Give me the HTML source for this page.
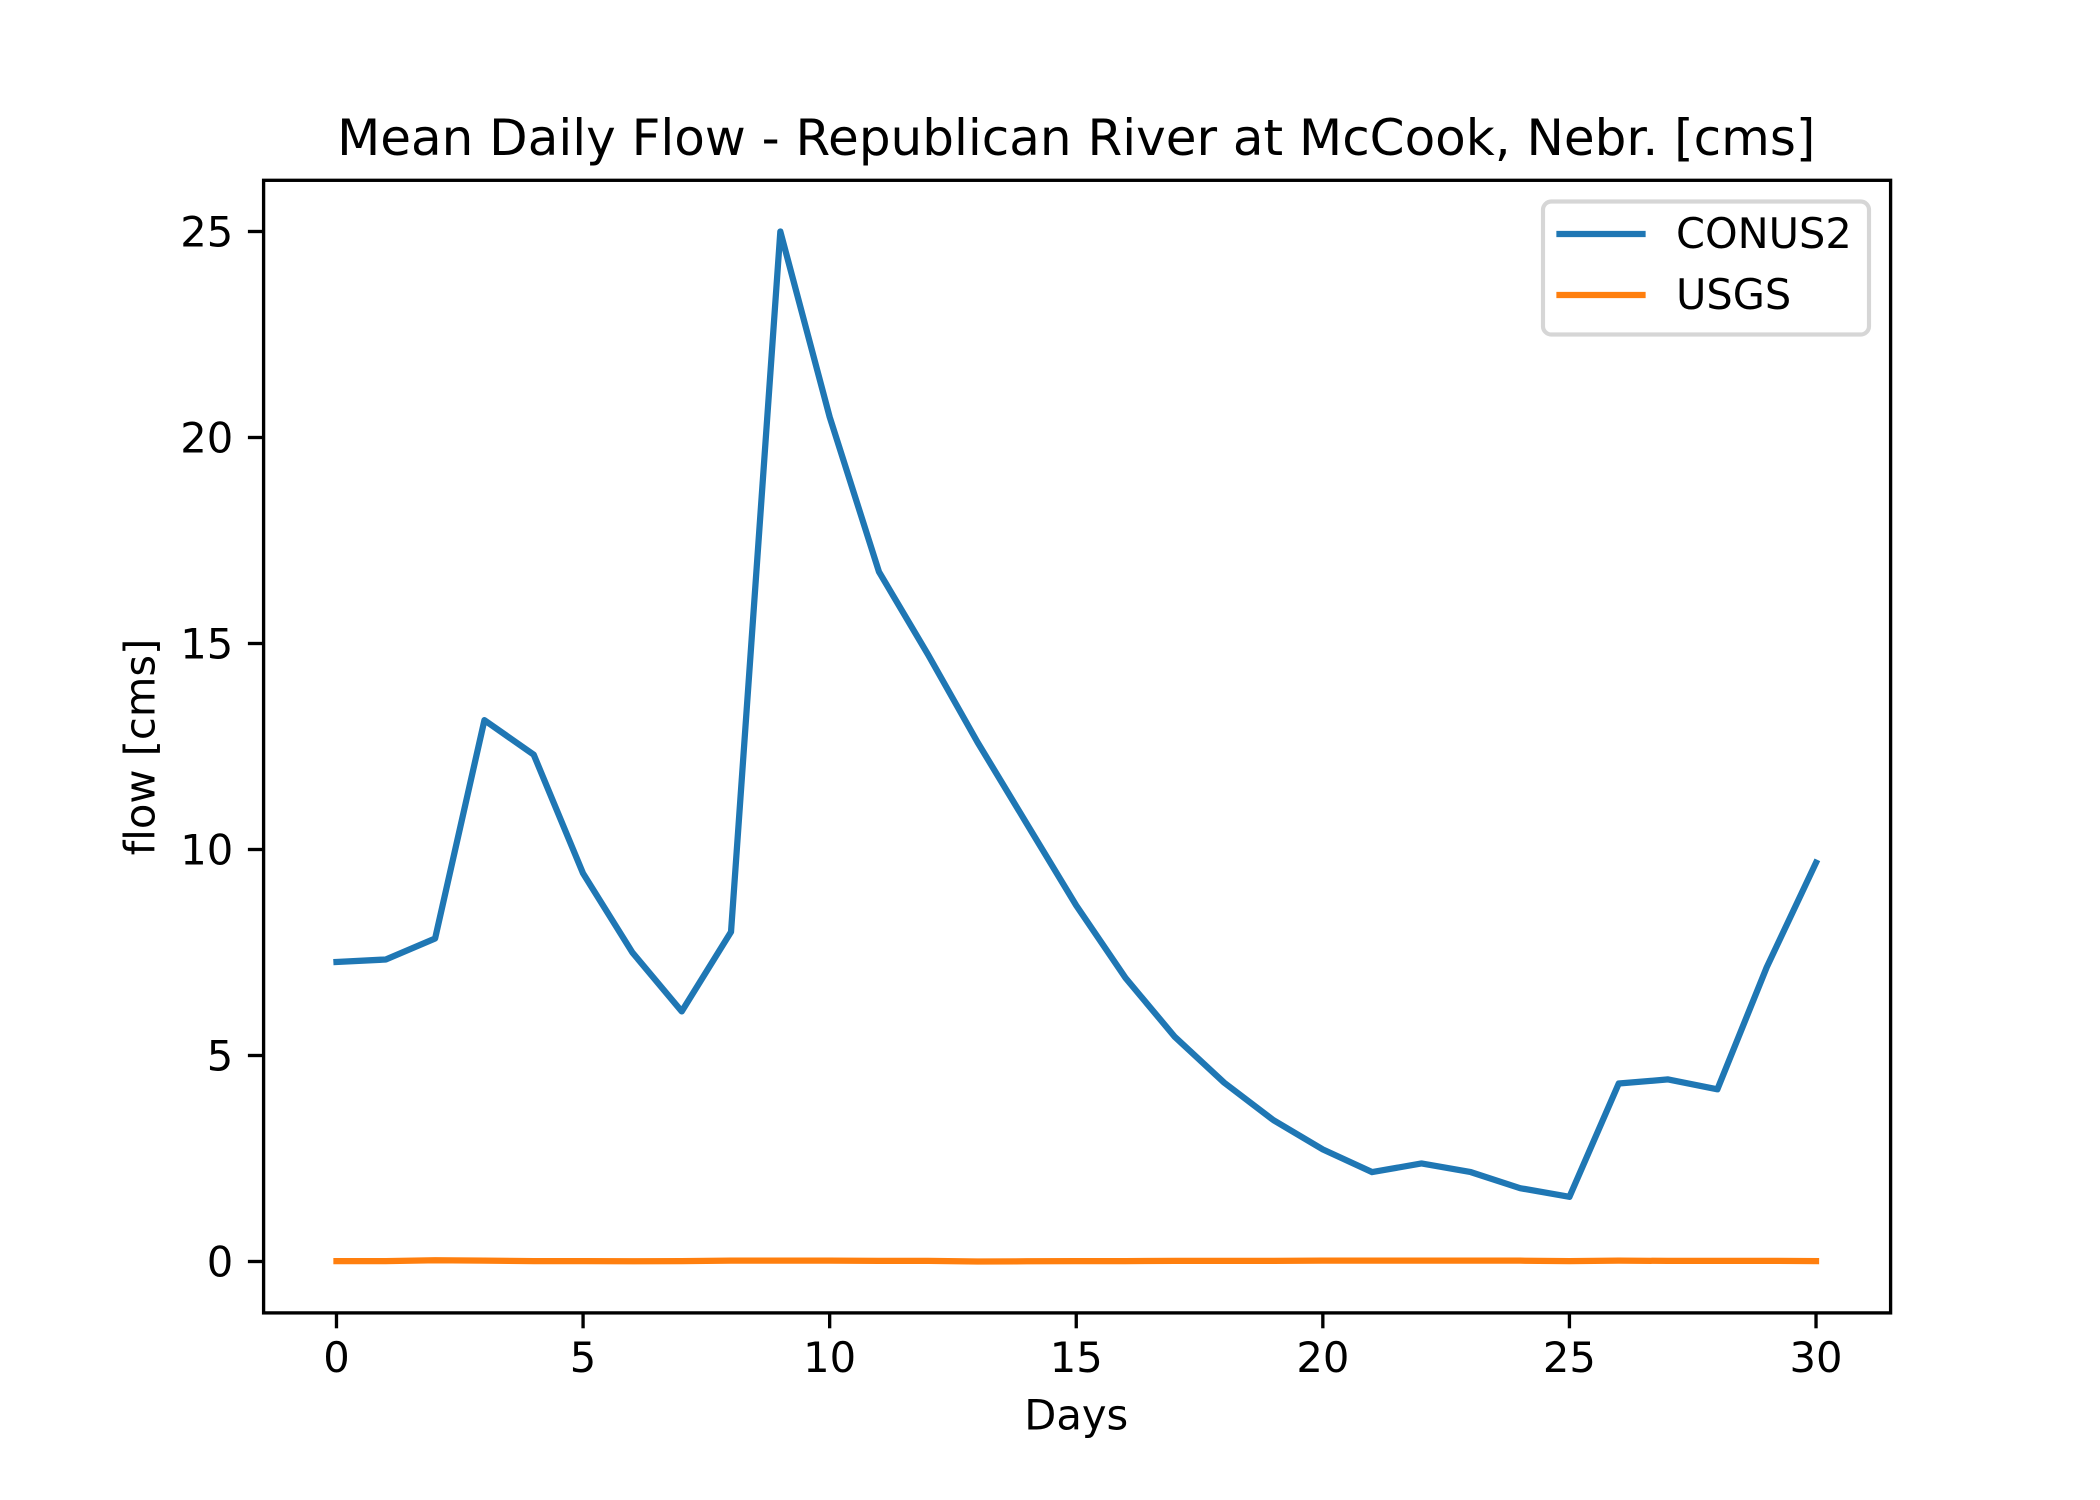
<!DOCTYPE html>
<html lang="en">
<head>
<meta charset="utf-8">
<title>Mean Daily Flow - Republican River at McCook, Nebr. [cms]</title>
<style>
  html, body { margin: 0; padding: 0; background: #fff; }
  svg { display: block; }
  text { font-family: "DejaVu Sans", "Liberation Sans", sans-serif; fill: #000; font-variant-ligatures: none; }
</style>
</head>
<body>
<svg id="chart" xmlns="http://www.w3.org/2000/svg" width="2100" height="1500" viewBox="0 0 2100 1500">
  <rect x="0" y="0" width="2100" height="1500" fill="#ffffff"/>
  <text x="1076.25" y="155" font-size="50" text-anchor="middle">Mean Daily Flow - Republican River at McCook, Nebr. [cms]</text>
  <g id="series-layer"></g>
  <g id="tick-layer"></g>
  <rect id="spines" x="263.6" y="180.3" width="1627" height="1132.6" fill="none" stroke="#000" stroke-width="3.33"/>
  <text x="1076.25" y="1429.5" font-size="41.67" text-anchor="middle">Days</text>
  <text x="0" y="0" font-size="41.67" text-anchor="middle" transform="translate(154.5 747) rotate(-90)">flow [cms]</text>
  <g>
    <rect x="1543" y="201.5" width="326" height="133" rx="8.3" ry="8.3" fill="#ffffff" fill-opacity="0.8" stroke="#cccccc" stroke-opacity="0.8" stroke-width="4.17"/>
    <line x1="1559.5" y1="234" x2="1642.5" y2="234" stroke="#1f77b4" stroke-width="6.25" stroke-linecap="square"/>
    <text x="1676" y="248" font-size="41.5">CONUS2</text>
    <line x1="1559.5" y1="295" x2="1642.5" y2="295" stroke="#ff7f0e" stroke-width="6.25" stroke-linecap="square"/>
    <text x="1676" y="309" font-size="41.5">USGS</text>
  </g>
</svg>
<script>
const days = [0,1,2,3,4,5,6,7,8,9,10,11,12,13,14,15,16,17,18,19,20,21,22,23,24,25,26,27,28,29,30];
const conus2Flow = [7.27,7.33,7.84,13.14,12.3,9.42,7.5,6.07,8.0,25.0,20.5,16.74,14.72,12.6,10.62,8.64,6.88,5.45,4.34,3.43,2.72,2.17,2.38,2.17,1.78,1.57,4.32,4.42,4.18,7.14,9.68];
const usgsFlow = [0.01,0.01,0.03,0.02,0.01,0.01,0.005,0.01,0.02,0.02,0.02,0.015,0.015,0.0,0.005,0.01,0.01,0.015,0.015,0.015,0.02,0.02,0.02,0.02,0.02,0.01,0.02,0.015,0.015,0.015,0.01];
const xTickValues = [0,5,10,15,20,25,30];
const yTickValues = [0,5,10,15,20,25];
const xTickLabels = ["0","5","10","15","20","25","30"];
const yTickLabels = ["0","5","10","15","20","25"];

const SVG_NS = "http://www.w3.org/2000/svg";
const plot = { left: 262.5, right: 1890, top: 180, bottom: 1313 };
const allValues = conus2Flow.concat(usgsFlow);
const xMin = Math.min.apply(null, days), xMax = Math.max.apply(null, days);
const yMin = Math.min.apply(null, allValues), yMax = Math.max.apply(null, allValues);
const xPad = (xMax - xMin) * 0.05, yPad = (yMax - yMin) * 0.05;
function xScale(v) {
  return plot.left + (v - (xMin - xPad)) / ((xMax + xPad) - (xMin - xPad)) * (plot.right - plot.left);
}
function yScale(v) {
  return plot.bottom - (v - (yMin - yPad)) / ((yMax + yPad) - (yMin - yPad)) * (plot.bottom - plot.top);
}
function pointString(values) {
  return values.map(function (v, i) {
    return xScale(days[i]).toFixed(2) + "," + yScale(v).toFixed(2);
  }).join(" ");
}
const seriesLayer = document.getElementById("series-layer");
const tickLayer = document.getElementById("tick-layer");

const conusLine = document.createElementNS(SVG_NS, "polyline");


conusLine.setAttribute("points", pointString(conus2Flow));
conusLine.setAttribute("fill", "none");
conusLine.setAttribute("stroke", "#1f77b4");
conusLine.setAttribute("stroke-width", "6.25");
conusLine.setAttribute("stroke-linejoin", "round");
conusLine.setAttribute("stroke-linecap", "square");
seriesLayer.appendChild(conusLine);

const usgsLine = document.createElementNS(SVG_NS, "polyline");


usgsLine.setAttribute("points", pointString(usgsFlow));
usgsLine.setAttribute("fill", "none");
usgsLine.setAttribute("stroke", "#ff7f0e");
usgsLine.setAttribute("stroke-width", "6.25");
usgsLine.setAttribute("stroke-linejoin", "round");
usgsLine.setAttribute("stroke-linecap", "square");
seriesLayer.appendChild(usgsLine);

xTickValues.forEach(function (v, i) {
  const x = xScale(v);
  const tick = document.createElementNS(SVG_NS, "line");
  
  
  tick.setAttribute("x1", x);
  tick.setAttribute("x2", x);
  tick.setAttribute("y1", plot.bottom);
  tick.setAttribute("y2", plot.bottom + 15.3);
  tick.setAttribute("stroke", "#000");
  tick.setAttribute("stroke-width", "3.33");
  tickLayer.appendChild(tick);
  const label = document.createElementNS(SVG_NS, "text");
  
  
  label.setAttribute("x", x);
  label.setAttribute("y", plot.bottom + 59);
  label.setAttribute("font-size", "41.67");
  label.setAttribute("text-anchor", "middle");
  label.textContent = xTickLabels[i];
  tickLayer.appendChild(label);
});

yTickValues.forEach(function (v, i) {
  const y = yScale(v);
  const tick = document.createElementNS(SVG_NS, "line");
  
  
  tick.setAttribute("x1", plot.left - 14.6);
  tick.setAttribute("x2", plot.left);
  tick.setAttribute("y1", y);
  tick.setAttribute("y2", y);
  tick.setAttribute("stroke", "#000");
  tick.setAttribute("stroke-width", "3.33");
  tickLayer.appendChild(tick);
  const label = document.createElementNS(SVG_NS, "text");
  
  
  label.setAttribute("x", plot.left - 29.2);
  label.setAttribute("y", y + 14.8);
  label.setAttribute("font-size", "41.67");
  label.setAttribute("text-anchor", "end");
  label.textContent = yTickLabels[i];
  tickLayer.appendChild(label);
});
</script>
</body>
</html>
